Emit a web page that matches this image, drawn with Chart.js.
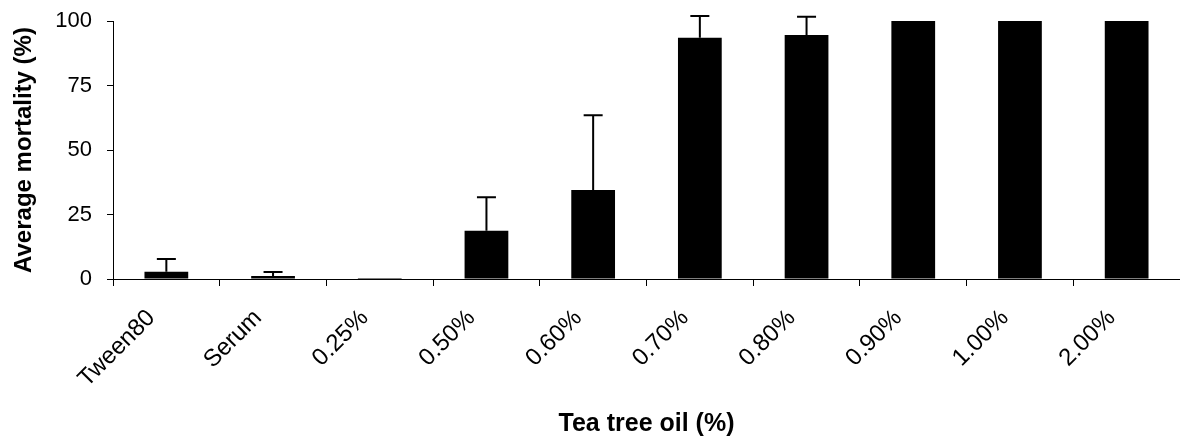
<!DOCTYPE html>
<html>
<head>
<meta charset="utf-8">
<script src="https://cdn.jsdelivr.net/npm/chart.js@4"></script>
<style>
	html, body { margin: 0; padding: 0; background: #fff; }
	#wrap { width: 1180px; height: 439px; }
</style>
</head>
<body>
<div id="wrap"><canvas id="chart"></canvas></div>
<script>
	// values
	var categories = ['Tween80', 'Serum', '0.25%', '0.50%', '0.60%', '0.70%', '0.80%', '0.90%', '1.00%', '2.00%'];
	var mortality = [2.8, 1.2, 0.4, 18.7, 34.5, 93.5, 94.6, 100, 100, 100];
	var errorUp = [5, 1.5, 0, 13, 29, 8.4, 7, 0, 0, 0];
	var yTicks = [0, 25, 50, 75, 100];

	var fontFamily = '"Liberation Sans", Arial, sans-serif';

	// upper error whiskers, drawn through the y scale
	var errorBars = {
		id: 'errorBars',
		afterDatasetsDraw: function (chart) {
			var ctx = chart.ctx,
				meta = chart.getDatasetMeta(0),
				yScale = chart.scales.y;

			ctx.save();
			ctx.strokeStyle = '#000';
			ctx.lineWidth = 2;
			meta.data.forEach(function (bar, i) {
				if (!errorUp[i]) {
					return;
				}
				var top = yScale.getPixelForValue(mortality[i] + errorUp[i]),
					base = yScale.getPixelForValue(mortality[i]);
				ctx.beginPath();
				ctx.moveTo(bar.x, base);
				ctx.lineTo(bar.x, top);
				ctx.moveTo(bar.x - 9.5, top);
				ctx.lineTo(bar.x + 9.5, top);
				ctx.stroke();
			});
			ctx.restore();
		}
	};

	new Chart(document.getElementById('chart'), {
		type: 'bar',
		data: {
			labels: categories,
			datasets: [{
				data: mortality,
				backgroundColor: '#000',
				borderWidth: 0,
				categoryPercentage: 1,
				barPercentage: 0.41
			}]
		},
		options: {
			responsive: true,
			maintainAspectRatio: false,
			animation: false,
			layout: { padding: { top: 21, right: 0, bottom: 0, left: 0 } },
			plugins: {
				legend: { display: false },
				tooltip: { enabled: false }
			},
			scales: {
				x: {
					offset: true,
					grid: {
						offset: true,
						drawOnChartArea: false,
						tickLength: 7,
						color: '#000'
					},
					border: { color: '#000', width: 1 },
					ticks: {
						color: '#000',
						font: { family: fontFamily, size: 24 },
						minRotation: 45,
						maxRotation: 45,
						labelOffset: -15,
						padding: 18
					},
					title: {
						display: true,
						text: 'Tea tree oil (%)',
						color: '#000',
						font: { family: fontFamily, size: 25, weight: 'bold' },
						padding: { top: 0, bottom: 0 }
					},
					afterFit: function (scale) {
						scale.height = 160;
					}
				},
				y: {
					min: 0,
					max: 100,
					afterBuildTicks: function (scale) {
						scale.ticks = yTicks.map(function (v) { return { value: v }; });
					},
					grid: {
						drawOnChartArea: false,
						tickLength: 6,
						color: '#000'
					},
					border: { color: '#000', width: 1 },
					ticks: {
						color: '#000',
						font: { family: fontFamily, size: 22 },
						padding: 15
					},
					title: {
						display: true,
						text: 'Average mortality (%)',
						color: '#000',
						font: { family: fontFamily, size: 24, weight: 'bold' },
						padding: { top: 10, bottom: 0 }
					},
					afterFit: function (scale) {
						scale.width = 113;
						scale.paddingTop = 0;
						scale.paddingBottom = 0;
					}
				}
			}
		},
		plugins: [errorBars]
	});
</script>
</body>
</html>
